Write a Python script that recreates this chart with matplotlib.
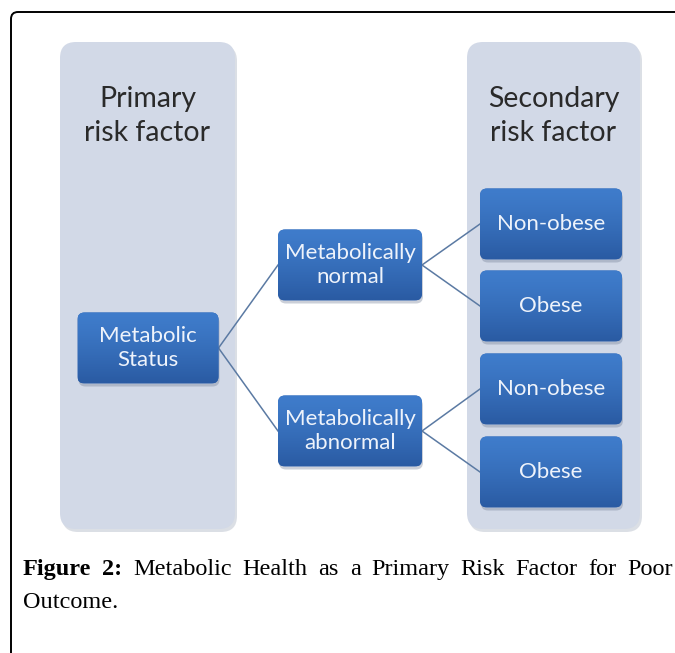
"""Metabolic health as a primary risk factor - diagramme en arbre."""
import matplotlib
matplotlib.use("Agg")
import matplotlib.pyplot as plt
import numpy as np
from matplotlib.patches import FancyBboxPatch

# donnees du diagramme
column_titles = ["Primary\nrisk factor", "Secondary\nrisk factor"]
root_label = "Metabolic\nStatus"
middle_labels = ["Metabolically\nnormal", "Metabolically\nabnormal"]
leaf_labels = ["Non-obese", "Obese", "Non-obese", "Obese"]
leaf_parent = [0, 0, 1, 1]
caption_bold = ["Figure", "2:"]
caption_words = ["Metabolic", "Health", "as", "a", "Primary", "Risk", "Factor", "for", "Poor"]
caption_last = "Outcome."

W, H = 675, 653
fig = plt.figure(figsize=(W / 100, H / 100), dpi=100)
ax = fig.add_axes([0, 0, 1, 1])
ax.set_xlim(0, W)
ax.set_ylim(H, 0)
ax.axis("off")

BOX_FONT = "Lato"
PANEL = "#d2d9e7"
LINE = "#5b7aa3"

# cadre exterieur (haut + gauche, coin arrondi)
frame = FancyBboxPatch((11, 12), 700, 700, boxstyle="round,pad=0,rounding_size=7",
                       fc="white", ec="black", lw=1.4, zorder=0)
ax.add_patch(frame)

# colonnes de fond
panels = [(60, 235), (467, 640)]
for (x0, x1), title in zip(panels, column_titles):
    ax.add_patch(FancyBboxPatch((x0 + 2, 45), x1 - x0, 487, boxstyle="round,pad=0,rounding_size=16",
                                fc="#b9c0cc", ec="none", alpha=0.5, zorder=1))
    ax.add_patch(FancyBboxPatch((x0, 42), x1 - x0, 487, boxstyle="round,pad=0,rounding_size=16",
                                fc=PANEL, ec="none", zorder=1))
    ax.text((x0 + x1) / 2, 116, title, ha="center", va="center", fontsize=20.5,
            family=BOX_FONT, color="#2a2a2a", linespacing=1.4, zorder=2)

grad = np.linspace(0, 1, 64).reshape(-1, 1)
top = np.array(matplotlib.colors.to_rgb("#3f7ccb"))
bot = np.array(matplotlib.colors.to_rgb("#2a5ba3"))
grad_img = top + (bot - top) * grad[..., None] ** 1.3
grad_img = grad_img.reshape(64, 1, 3)


def box(cx, cy, w, h, label):
    x0, y0 = cx - w / 2, cy - h / 2
    ax.add_patch(FancyBboxPatch((x0 + 1, y0 + 3), w, h, boxstyle="round,pad=0,rounding_size=7",
                                fc="#6b7890", ec="none", alpha=0.35, zorder=3))
    p = FancyBboxPatch((x0, y0), w, h, boxstyle="round,pad=0,rounding_size=7",
                       fc="#3569b5", ec="none", zorder=4)
    ax.add_patch(p)
    im = ax.imshow(grad_img, extent=(x0, x0 + w, y0 + h, y0), aspect="auto", zorder=5,
                   interpolation="bilinear")
    im.set_clip_path(p)
    ax.text(cx, cy, label, ha="center", va="center", fontsize=16, family=BOX_FONT,
            color="#eef3fb", linespacing=1.3, zorder=6)


# positions (mise en page)
level_x = [148, 350, 551]
box_w = [141, 144, 142]
box_h = 71
root_y = 348
mid_y = [265, 431]
leaf_y = [224, 306, 389, 472]

for i, my in enumerate(mid_y):
    ax.plot([level_x[0] + box_w[0] / 2, level_x[1] - box_w[1] / 2], [root_y, my],
            color=LINE, lw=1.1, zorder=2)
for ly, par in zip(leaf_y, leaf_parent):
    ax.plot([level_x[1] + box_w[1] / 2, level_x[2] - box_w[2] / 2], [mid_y[par], ly],
            color=LINE, lw=1.1, zorder=2)

box(level_x[0], root_y, box_w[0], box_h, root_label)
for my, lab in zip(mid_y, middle_labels):
    box(level_x[1], my, box_w[1], box_h, lab)
for ly, lab in zip(leaf_y, leaf_labels):
    box(level_x[2], ly, box_w[2], box_h, lab)

# legende justifiee
fig.canvas.draw()
renderer = fig.canvas.get_renderer()
CAP_FONT = "Liberation Serif"
cap_size = 17.5
words = [(w, "bold") for w in caption_bold] + [(w, "normal") for w in caption_words]
artists = []
for w, weight in words:
    t = ax.text(0, 575, w, ha="left", va="baseline", fontsize=cap_size, family=CAP_FONT,
                fontweight=weight, color="black")
    artists.append(t)
widths = [t.get_window_extent(renderer).width for t in artists]
left, right = 23, 673
gap = (right - left - sum(widths)) / (len(widths) - 1)
x = left
for t, wd in zip(artists, widths):
    t.set_x(x)
    x += wd + gap
ax.text(left, 608, caption_last, ha="left", va="baseline", fontsize=cap_size,
        family=CAP_FONT, color="black")

fig.savefig("out.png", dpi=100)
